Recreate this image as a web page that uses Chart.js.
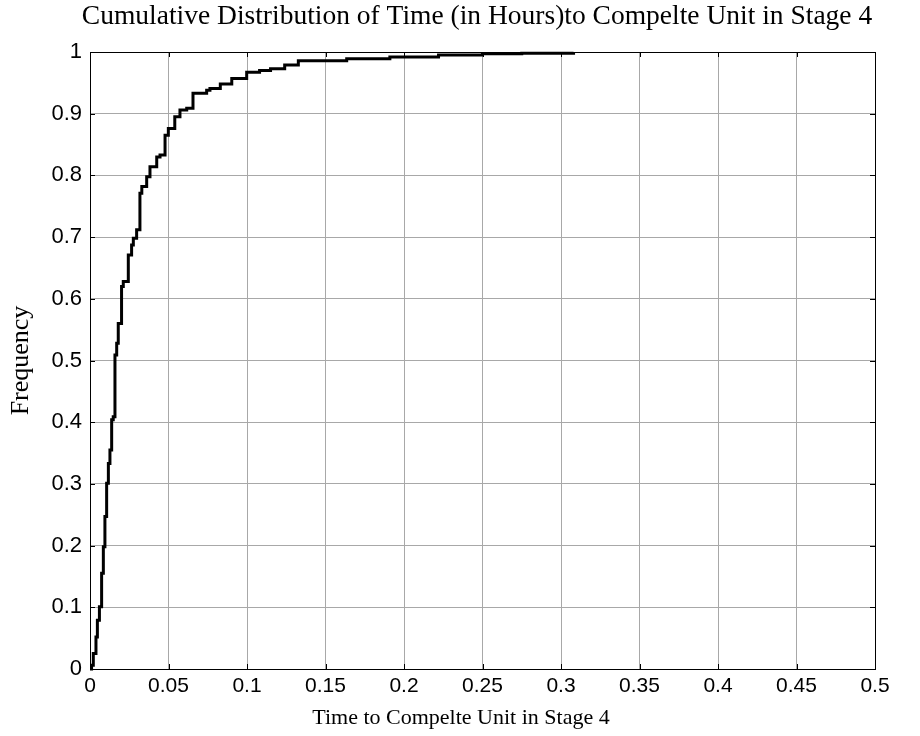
<!DOCTYPE html>
<html>
<head>
<meta charset="utf-8">
<script src="https://cdn.jsdelivr.net/npm/chart.js@4.4.1/dist/chart.umd.min.js"></script>
<style>
  html, body { margin: 0; padding: 0; background: #fff; }
  canvas { display: block; }
</style>
</head>
<body>
<canvas id="cdfChart" width="920" height="736"></canvas>
<script>
const chartTitle = "Cumulative Distribution of Time (in Hours)to Compelte Unit in Stage 4";
const xTitle = "Time to Compelte Unit in Stage 4";
const yTitle = "Frequency";

const xTickValues = [0, 0.05, 0.1, 0.15, 0.2, 0.25, 0.3, 0.35, 0.4, 0.45, 0.5];
const xTickLabels = ["0", "0.05", "0.1", "0.15", "0.2", "0.25", "0.3", "0.35", "0.4", "0.45", "0.5"];
const yTickValues = [0, 0.1, 0.2, 0.3, 0.4, 0.5, 0.6, 0.7, 0.8, 0.9, 1];
const yTickLabels = ["0", "0.1", "0.2", "0.3", "0.4", "0.5", "0.6", "0.7", "0.8", "0.9", "1"];

const timeHours = [
  0, 0.001, 0.0021, 0.0038, 0.0047, 0.006, 0.0074, 0.0085, 0.0095, 0.0106,
  0.0117, 0.0127, 0.0138, 0.0148, 0.0159, 0.017, 0.018, 0.0201, 0.0212, 0.0244,
  0.0265, 0.0276, 0.0297, 0.0318, 0.033, 0.0361, 0.0382, 0.0425, 0.0446, 0.0478,
  0.0499, 0.054, 0.0573, 0.0616, 0.0656, 0.0743, 0.0764, 0.083, 0.0903, 0.0998,
  0.108, 0.115, 0.124, 0.1327, 0.1635, 0.191, 0.222, 0.25, 0.275, 0.308
];
const cumFreq = [
  0, 0.006, 0.025, 0.052, 0.079, 0.101, 0.155, 0.198, 0.247, 0.301,
  0.333, 0.355, 0.404, 0.409, 0.509, 0.528, 0.56, 0.62, 0.628, 0.671,
  0.687, 0.698, 0.712, 0.771, 0.782, 0.798, 0.814, 0.83, 0.833, 0.865,
  0.876, 0.895, 0.906, 0.909, 0.933, 0.938, 0.941, 0.948, 0.957, 0.967,
  0.97, 0.973, 0.979, 0.986, 0.989, 0.992, 0.995, 0.997, 0.998, 1.0
];

const serif = '"Liberation Serif", "Times New Roman", serif';
const sans = '"Liberation Sans", Arial, sans-serif';
const gridColor = "#a8a8a8";

// box around the axes, inward ticks on all four sides, figure title and x label
const axesFrame = {
  id: "axesFrame",
  afterDatasetsDraw(chart) {
    const { ctx, chartArea: a, scales } = chart;
    ctx.save();
    ctx.strokeStyle = "#000";
    ctx.lineWidth = 1;
    ctx.strokeRect(a.left + 0.5, a.top + 0.5, a.right - a.left, a.bottom - a.top);
    const len = 5;
    ctx.beginPath();
    xTickValues.forEach((v) => {
      const px = Math.round(scales.x.getPixelForValue(v)) + 0.5;
      ctx.moveTo(px, a.bottom); ctx.lineTo(px, a.bottom - len);
      ctx.moveTo(px, a.top); ctx.lineTo(px, a.top + len);
    });
    yTickValues.forEach((v) => {
      const py = Math.round(scales.y.getPixelForValue(v)) + 0.5;
      ctx.moveTo(a.left, py); ctx.lineTo(a.left + len, py);
      ctx.moveTo(a.right, py); ctx.lineTo(a.right - len, py);
    });
    ctx.stroke();
    ctx.restore();
  },
  afterDraw(chart) {
    const { ctx } = chart;
    ctx.save();
    ctx.fillStyle = "#000";
    ctx.textAlign = "center";
    ctx.textBaseline = "middle";
    ctx.font = "27.5px " + serif;
    ctx.fillText(chartTitle, 477, 17);
    ctx.font = "22px " + serif;
    ctx.fillText(xTitle, 461, 718);
    ctx.restore();
  }
};

new Chart(document.getElementById("cdfChart"), {
  type: "line",
  data: {
    datasets: [{
      data: timeHours.map((t, i) => ({ x: t, y: cumFreq[i] })),
      borderColor: "#000",
      borderWidth: 3,
      pointRadius: 0,
      stepped: true,
      fill: false,
      clip: false
    }]
  },
  options: {
    responsive: false,
    animation: false,
    layout: { padding: { top: 52, right: 45, bottom: 0, left: 0 } },
    plugins: { legend: { display: false }, tooltip: { enabled: false } },
    scales: {
      x: {
        type: "linear",
        min: 0,
        max: 0.5,
        afterBuildTicks: (s) => { s.ticks = xTickValues.map((v) => ({ value: v })); },
        afterFit: (s) => { s.height = 67; },
        grid: { color: gridColor, lineWidth: 1, drawTicks: false },
        border: { display: false },
        ticks: {
          color: "#000",
          padding: 5,
          maxRotation: 0,
          autoSkip: false,
          font: { family: sans, size: 21 },
          callback: (v, i) => xTickLabels[i]
        }
      },
      y: {
        type: "linear",
        min: 0,
        max: 1,
        afterBuildTicks: (s) => { s.ticks = yTickValues.map((v) => ({ value: v })); },
        afterFit: (s) => { s.width = 90; },
        grid: { color: gridColor, lineWidth: 1, drawTicks: false },
        border: { display: false },
        ticks: {
          color: "#000",
          padding: 8,
          autoSkip: false,
          font: { family: sans, size: 22 },
          callback: (v, i) => yTickLabels[i]
        },
        title: {
          display: true,
          text: yTitle,
          color: "#000",
          font: { family: serif, size: 26 },
          padding: { top: 6, bottom: 0 }
        }
      }
    }
  },
  plugins: [axesFrame]
});
</script>
</body>
</html>
